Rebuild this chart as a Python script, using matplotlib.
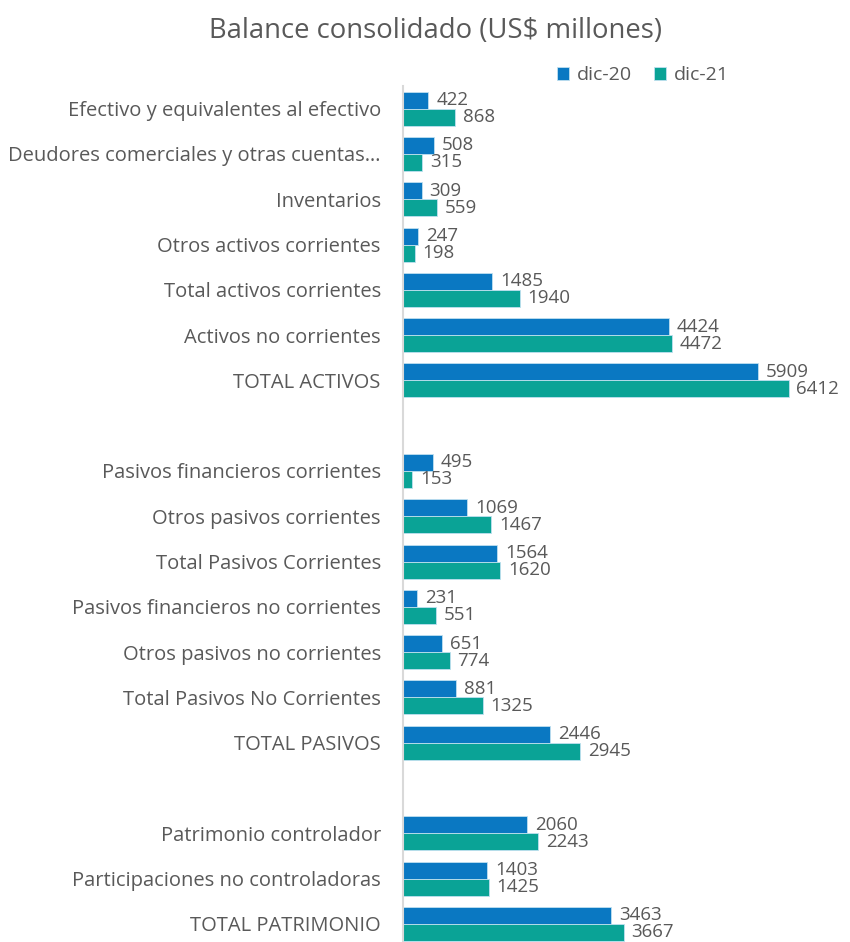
import numpy as np
import matplotlib.pyplot as plt

plt.rcParams['font.family'] = ['Open Sans', 'DejaVu Sans']

categories = [
    "Efectivo y equivalentes al efectivo",
    "Deudores comerciales y otras cuentas…",
    "Inventarios",
    "Otros activos corrientes",
    "Total activos corrientes",
    "Activos no corrientes",
    "TOTAL ACTIVOS",
    "",
    "Pasivos financieros corrientes",
    "Otros pasivos corrientes",
    "Total Pasivos Corrientes",
    "Pasivos financieros no corrientes",
    "Otros pasivos no corrientes",
    "Total Pasivos No Corrientes",
    "TOTAL PASIVOS",
    "",
    "Patrimonio controlador",
    "Participaciones no controladoras",
    "TOTAL PATRIMONIO",
]
dic20 = [422, 508, 309, 247, 1485, 4424, 5909, None,
         495, 1069, 1564, 231, 651, 881, 2446, None,
         2060, 1403, 3463]
dic21 = [868, 315, 559, 198, 1940, 4472, 6412, None,
         153, 1467, 1620, 551, 774, 1325, 2945, None,
         2243, 1425, 3667]

c20 = '#0A78C2'
c21 = '#0AA396'
txt = '#595959'

fig = plt.figure(figsize=(8.5, 9.42), dpi=100)
ax = fig.add_axes([403 / 850, 0.0, 421 / 850, 1 - 86 / 942])

y = np.arange(len(categories))
h = 0.375
for vals, off, col, lab in [(dic20, -h / 2, c20, 'dic-20'), (dic21, h / 2, c21, 'dic-21')]:
    idx = [i for i, v in enumerate(vals) if v is not None]
    vv = [vals[i] for i in idx]
    ax.barh(y[idx] + off, vv, height=h, color=col, edgecolor='#BFE0F0',
            linewidth=0.6, label=lab)
    for yi, v in zip(y[idx] + off, vv):
        ax.text(v + 130, yi, str(v), va='center', ha='left', fontsize=13.5, color=txt)

ax.set_xlim(0, 7000)
ax.set_ylim(18.4, -0.5)
ax.set_yticks(y)
ax.set_yticklabels(categories, fontsize=14.5, color=txt)
ax.tick_params(axis='y', length=0, pad=16)
ax.set_xticks([])
for s in ['top', 'right', 'bottom']:
    ax.spines[s].set_visible(False)
ax.spines['left'].set_color('#D9D9D9')
ax.spines['left'].set_linewidth(1.5)

fig.text(0.512, 1 - 31 / 942, 'Balance consolidado (US$ millones)', ha='center', va='center',
         fontsize=19.8, color=txt)
ax.legend(loc='lower left', bbox_to_anchor=(146 / 421, 0.993), ncol=2, frameon=False,
          fontsize=14, handlelength=0.65, handleheight=0.65, handletextpad=0.4,
          columnspacing=1.1, labelcolor=txt, borderaxespad=0)

fig.savefig('out.png', dpi=100)
